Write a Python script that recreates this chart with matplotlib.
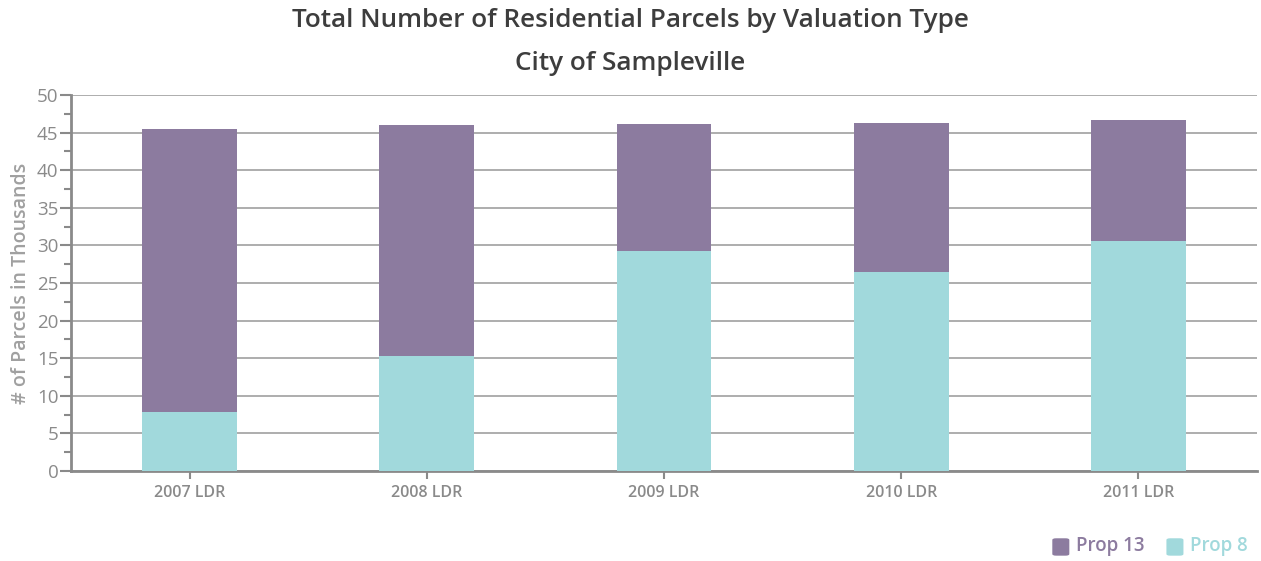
import numpy as np
import matplotlib.pyplot as plt
from matplotlib.ticker import MultipleLocator
from matplotlib.patches import FancyBboxPatch

plt.rcParams['font.family'] = ['Open Sans', 'DejaVu Sans']

years = ['2007 LDR', '2008 LDR', '2009 LDR', '2010 LDR', '2011 LDR']
prop8 = [7.8, 15.3, 29.3, 26.5, 30.6]
total = [45.5, 46.0, 46.1, 46.3, 46.7]
prop13 = [t - p for t, p in zip(total, prop8)]

c13 = '#8c7b9f'
c8 = '#a1d9dc'
grey = '#8a8a8a'

fig = plt.figure(figsize=(12.61, 5.61), dpi=100)
ax = fig.add_axes([0.0563, 0.1604, 0.9405, 0.6703])

x = np.arange(len(years))
ax.bar(x, prop8, width=0.4, color=c8, zorder=3)
ax.bar(x, prop13, width=0.4, bottom=prop8, color=c13, zorder=3)

ax.set_xlim(-0.5, 4.5)
ax.set_ylim(0, 50)
ax.yaxis.set_major_locator(MultipleLocator(5))
ax.yaxis.set_minor_locator(MultipleLocator(2.5))
ax.grid(axis='y', color='#a0a0a0', linewidth=1.2, zorder=0)
ax.set_xticks(x)
ax.set_xticklabels(years, fontsize=11.5, fontweight='semibold', color=grey)
ax.tick_params(axis='y', which='major', labelsize=13.5, labelcolor=grey, color=grey, length=8, width=1.5, pad=1)
ax.tick_params(axis='y', which='minor', color=grey, length=5, width=1.5)
ax.tick_params(axis='x', color=grey, length=6, width=1.5, pad=4)
for s in ['top', 'right']:
    ax.spines[s].set_visible(False)
for s in ['left', 'bottom']:
    ax.spines[s].set_color(grey)
    ax.spines[s].set_linewidth(2)

ax.set_ylabel('# of Parcels in Thousands', fontsize=14, fontweight='semibold', color='#a0a0a0', labelpad=4)

fig.text(0.5, 0.963, 'Total Number of Residential Parcels by Valuation Type', ha='center', va='center',
         fontsize=18.8, fontweight='semibold', color='#3d3d3d')
fig.text(0.5, 0.886, 'City of Sampleville', ha='center', va='center',
         fontsize=18.8, fontweight='semibold', color='#3d3d3d')

# legend bottom right
legend_items = [('Prop 13', c13, 0.8345), ('Prop 8', c8, 0.925)]
for label, col, lx in legend_items:
    box = FancyBboxPatch((lx, 0.0095), 0.0135, 0.031, boxstyle='round,pad=0,rounding_size=0.003',
                         transform=fig.transFigure, facecolor=col, edgecolor='none')
    fig.patches.append(box)
    fig.text(lx + 0.019, 0.026, label, ha='left', va='center', fontsize=13.5, fontweight='semibold', color=col)

fig.savefig('out.png', dpi=100)
